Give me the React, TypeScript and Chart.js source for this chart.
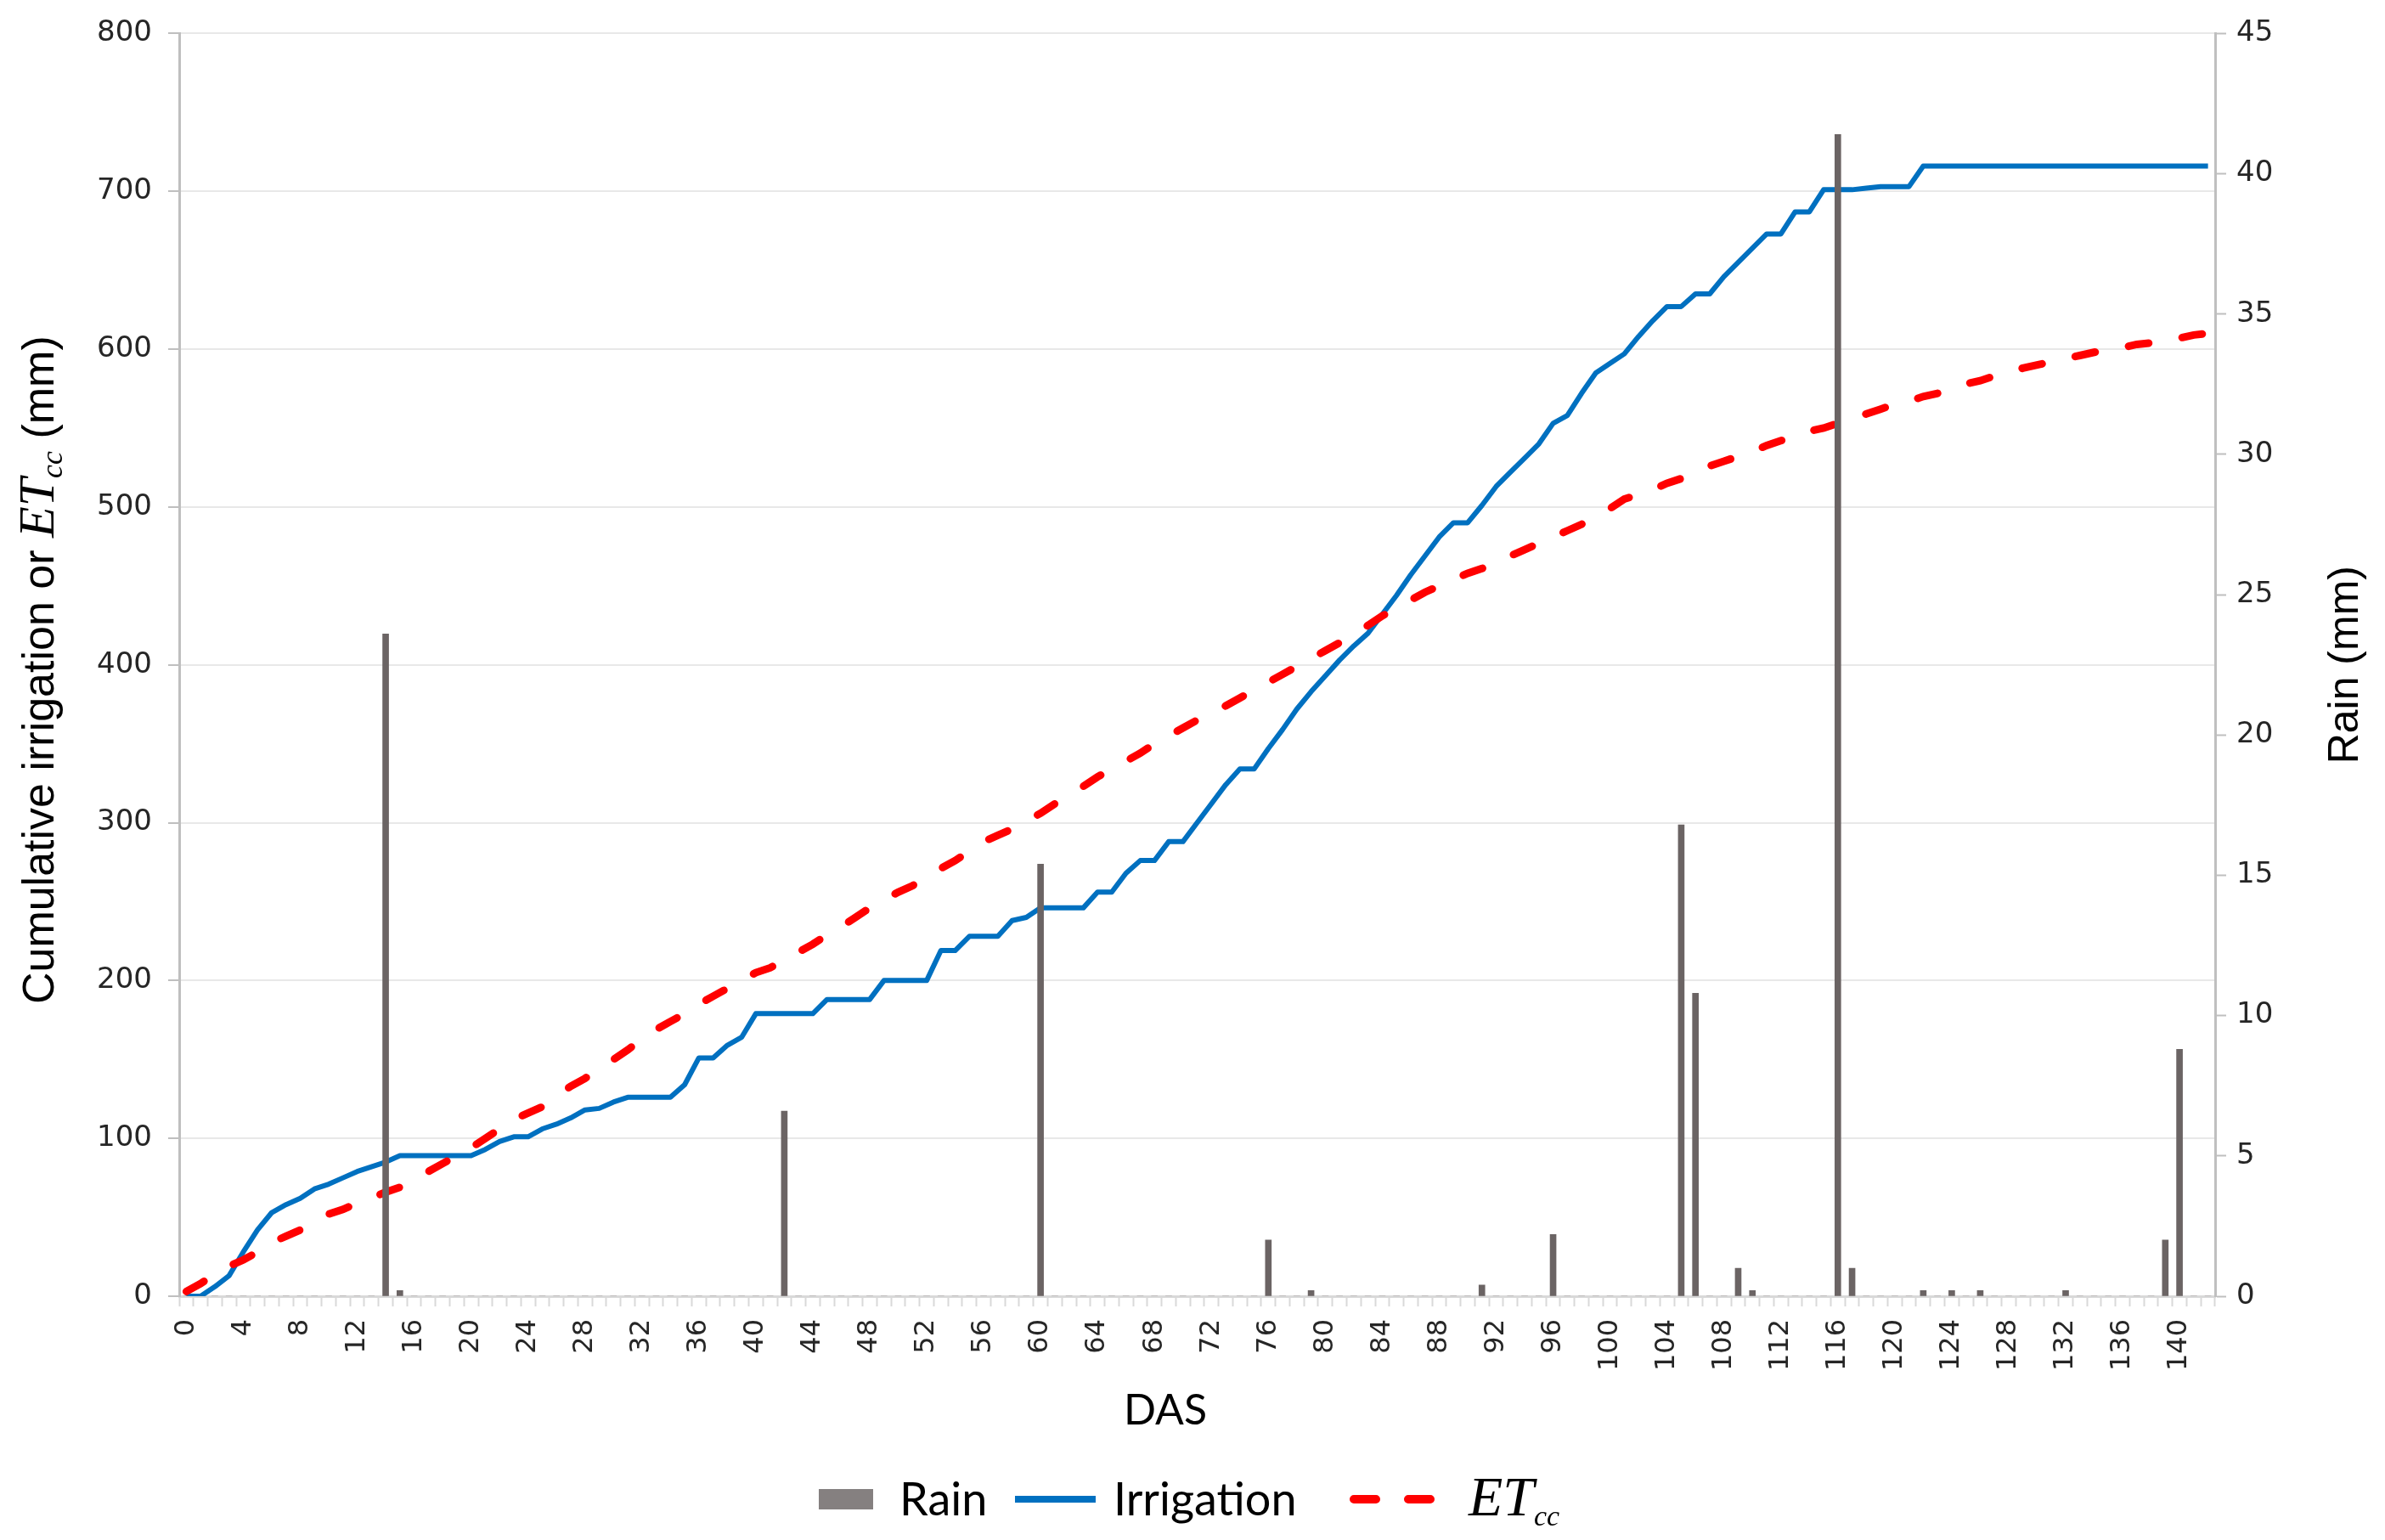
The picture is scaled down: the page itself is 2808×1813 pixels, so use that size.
import React, { useEffect, useRef } from "react";
import { Chart, registerables } from "chart.js";

Chart.register(...registerables);

// ---- Data ----
const days: number[] = [
  0, 1, 2, 3, 4, 5, 6, 7, 8, 9,
  10, 11, 12, 13, 14, 15, 16, 17, 18, 19,
  20, 21, 22, 23, 24, 25, 26, 27, 28, 29,
  30, 31, 32, 33, 34, 35, 36, 37, 38, 39,
  40, 41, 42, 43, 44, 45, 46, 47, 48, 49,
  50, 51, 52, 53, 54, 55, 56, 57, 58, 59,
  60, 61, 62, 63, 64, 65, 66, 67, 68, 69,
  70, 71, 72, 73, 74, 75, 76, 77, 78, 79,
  80, 81, 82, 83, 84, 85, 86, 87, 88, 89,
  90, 91, 92, 93, 94, 95, 96, 97, 98, 99,
  100, 101, 102, 103, 104, 105, 106, 107, 108, 109,
  110, 111, 112, 113, 114, 115, 116, 117, 118, 119,
  120, 121, 122, 123, 124, 125, 126, 127, 128, 129,
  130, 131, 132, 133, 134, 135, 136, 137, 138, 139,
  140, 141, 142,
];

const xTickLabels: number[] = [
  0, 4, 8, 12, 16, 20, 24, 28, 32, 36, 40, 44, 48, 52, 56, 60, 64, 68,
  72, 76, 80, 84, 88, 92, 96, 100, 104, 108, 112, 116, 120, 124, 128,
  132, 136, 140,
];

const rain: number[] = [
  0, 0, 0, 0, 0, 0, 0, 0, 0, 0,
  0, 0, 0, 0, 23.6, 0.2, 0, 0, 0, 0,
  0, 0, 0, 0, 0, 0, 0, 0, 0, 0,
  0, 0, 0, 0, 0, 0, 0, 0, 0, 0,
  0, 0, 6.6, 0, 0, 0, 0, 0, 0, 0,
  0, 0, 0, 0, 0, 0, 0, 0, 0, 0,
  15.4, 0, 0, 0, 0, 0, 0, 0, 0, 0,
  0, 0, 0, 0, 0, 0, 2.0, 0, 0, 0.2,
  0, 0, 0, 0, 0, 0, 0, 0, 0, 0,
  0, 0.4, 0, 0, 0, 0, 2.2, 0, 0, 0,
  0, 0, 0, 0, 0, 16.8, 10.8, 0, 0, 1.0,
  0.2, 0, 0, 0, 0, 0, 41.4, 1.0, 0, 0,
  0, 0, 0.2, 0, 0.2, 0, 0.2, 0, 0, 0,
  0, 0, 0.2, 0, 0, 0, 0, 0, 0, 2.0,
  8.8, 0, 0,
];

const irrigation: number[] = [
  0, 0, 6, 13, 28, 42, 53, 58, 62, 68,
  71, 75, 79, 82, 85, 89, 89, 89, 89, 89,
  89, 93, 98, 101, 101, 106, 109, 113, 118, 119,
  123, 126, 126, 126, 126, 134, 151, 151, 159, 164,
  179, 179, 179, 179, 179, 188, 188, 188, 188, 200,
  200, 200, 200, 219, 219, 228, 228, 228, 238, 240,
  246, 246, 246, 246, 256, 256, 268, 276, 276, 288,
  288, 300, 312, 324, 334, 334, 347, 359, 372, 383,
  393, 403, 412, 420, 432, 444, 457, 469, 481, 490,
  490, 501, 513, 522, 531, 540, 553, 558, 572, 585,
  591, 597, 608, 618, 627, 627, 635, 635, 646, 655,
  664, 673, 673, 687, 687, 701, 701, 701, 702, 703,
  703, 703, 716, 716, 716, 716, 716, 716, 716, 716,
  716, 716, 716, 716, 716, 716, 716, 716, 716, 716,
  716, 716, 716,
];

const etcc: number[] = [
  3, 8, 14, 19, 23, 28, 34, 38, 42, 47,
  52, 55, 59, 62, 66, 69, 74, 79, 84, 89,
  94, 100, 106, 112, 116, 120, 127, 133, 138, 144,
  150, 156, 163, 169, 174, 179, 185, 190, 195, 200,
  205, 208, 213, 218, 223, 229, 234, 240, 246, 251,
  256, 260, 266, 271, 276, 282, 288, 292, 296, 301,
  306, 312, 317, 323, 329, 334, 339, 344, 350, 355,
  360, 365, 369, 374, 379, 384, 389, 394, 399, 404,
  409, 414, 420, 425, 431, 436, 441, 446, 450, 454,
  458, 461, 465, 469, 473, 477, 481, 485, 489, 494,
  499, 505, 508, 511, 515, 518, 522, 526, 529, 532,
  535, 539, 542, 545, 548, 550, 553, 556, 559, 562,
  565, 567, 570, 572, 575, 578, 580, 583, 585, 588,
  590, 592, 594, 596, 598, 600, 601, 603, 604, 606,
  607, 609, 610,
];

const leftTicks = { min: 0, max: 800, step: 100 };
const rightTicks = { min: 0, max: 45, step: 5 };

const COLORS = {
  rain: "#6b6464",
  rainLegend: "#858080",
  irrigation: "#0070C0",
  etcc: "#FF0000",
  grid: "#e8e8e8",
  axis: "#bfbfbf",
  xAxis: "#d9d9d9",
  tickText: "#262626",
  text: "#000000",
};

type Seg = { text: string; font: string; dy: number; w?: number };

function drawRotated(ctx: CanvasRenderingContext2D, cx: number, cy: number, segs: Seg[]) {
  ctx.save();
  ctx.translate(cx, cy);
  ctx.rotate(-Math.PI / 2);
  ctx.textAlign = "left";
  ctx.textBaseline = "alphabetic";
  ctx.fillStyle = COLORS.text;
  let total = 0;
  for (const s of segs) {
    ctx.font = s.font;
    s.w = ctx.measureText(s.text).width;
    total += s.w;
  }
  let x = -total / 2;
  for (const s of segs) {
    ctx.font = s.font;
    ctx.fillText(s.text, x, s.dy);
    x += s.w || 0;
  }
  ctx.restore();
}

const textPlugin = {
  id: "customTexts",
  afterDraw(chart: any) {
    const ctx: CanvasRenderingContext2D = chart.ctx;
    const area = chart.chartArea;
    const midY = (area.top + area.bottom) / 2;

    // Left axis title
    drawRotated(ctx, 45, midY + 6, [
      { text: "Cumulative irrigation or ", font: '52px "Liberation Sans"', dy: 18 },
      { text: "ET", font: 'italic 60px "Liberation Serif"', dy: 18 },
      { text: "cc", font: 'italic 36px "Liberation Serif"', dy: 28 },
      { text: " (mm)", font: '52px "Liberation Sans"', dy: 18 },
    ]);

    // Right axis title
    drawRotated(ctx, 2758, midY, [
      { text: "Rain (mm)", font: '50px "Liberation Sans"', dy: 18 },
    ]);

    // X axis title
    ctx.save();
    ctx.fillStyle = COLORS.text;
    ctx.font = "50px Lato";
    ctx.textAlign = "center";
    ctx.textBaseline = "middle";
    ctx.fillText("DAS", 1372, 1661);
    ctx.restore();

    // Legend
    const ds = chart.data.datasets;
    const ly = 1765;
    const base = 1784;
    ctx.save();
    ctx.fillStyle = COLORS.rainLegend;
    ctx.fillRect(964, ly - 12, 64, 24);
    ctx.fillStyle = COLORS.text;
    ctx.font = "54px Lato";
    ctx.textAlign = "left";
    ctx.textBaseline = "alphabetic";
    ctx.fillText(ds[0].label, 1059, base);
    ctx.strokeStyle = ds[1].borderColor;
    ctx.lineWidth = 8;
    ctx.lineCap = "butt";
    ctx.beginPath();
    ctx.moveTo(1195, ly);
    ctx.lineTo(1290, ly);
    ctx.stroke();
    ctx.fillText(ds[1].label, 1311, base);
    ctx.strokeStyle = ds[2].borderColor;
    ctx.lineWidth = 10;
    ctx.lineCap = "round";
    ctx.setLineDash([26, 38]);
    ctx.beginPath();
    ctx.moveTo(1594, ly);
    ctx.lineTo(1687, ly);
    ctx.stroke();
    ctx.setLineDash([]);
    ctx.font = 'italic 66px "Liberation Serif"';
    ctx.fillText("ET", 1729, base);
    const w = ctx.measureText("ET").width;
    ctx.font = 'italic 34px "Liberation Serif"';
    ctx.fillText("cc", 1729 + w, base + 12);
    ctx.restore();
  },
};

export default function App() {
  const ref = useRef<HTMLCanvasElement | null>(null);

  useEffect(() => {
    document.body.style.margin = "0";
    document.body.style.overflow = "hidden";
    const canvas = ref.current;
    if (!canvas) return;
    const chart = new Chart(canvas, {
      type: "bar",
      data: {
        labels: days.map((d) => String(d)),
        datasets: [
          {
            type: "bar",
            label: "Rain",
            data: rain,
            yAxisID: "y1",
            backgroundColor: COLORS.rain,
            borderWidth: 0,
            barThickness: 7,
            order: 0,
          } as any,
          {
            type: "line",
            label: "Irrigation",
            data: irrigation,
            yAxisID: "y",
            borderColor: COLORS.irrigation,
            backgroundColor: COLORS.irrigation,
            borderWidth: 6,
            pointRadius: 0,
            tension: 0,
            borderJoinStyle: "round",
            order: 2,
          } as any,
          {
            type: "line",
            label: "ETcc",
            data: etcc,
            yAxisID: "y",
            borderColor: COLORS.etcc,
            backgroundColor: COLORS.etcc,
            borderWidth: 9,
            borderDash: [24, 40],
            borderCapStyle: "round",
            pointRadius: 0,
            tension: 0,
            order: 1,
          } as any,
        ],
      },
      options: {
        responsive: false,
        animation: false,
        devicePixelRatio: 1,
        layout: { padding: { top: 39, left: 0, right: 0, bottom: 110 } },
        plugins: {
          legend: { display: false },
          tooltip: { enabled: false },
          title: { display: false },
        },
        scales: {
          x: {
            type: "category",
            offset: true,
            grid: {
              display: true,
              drawOnChartArea: false,
              drawTicks: true,
              tickLength: 12,
              tickColor: COLORS.xAxis,
              tickWidth: 2,
              offset: true,
            },
            border: { display: true, color: COLORS.xAxis, width: 3 },
            ticks: {
              autoSkip: false,
              maxRotation: 90,
              minRotation: 90,
              padding: 15,
              color: COLORS.tickText,
              font: { family: '"DejaVu Sans"', size: 32 },
              callback: (_v: any, i: number) =>
                xTickLabels.includes(days[i]) ? String(days[i]) : "",
            },
            afterFit: (s: any) => {
              s.height = 177;
            },
          },
          y: {
            type: "linear",
            position: "left",
            min: leftTicks.min,
            max: leftTicks.max,
            ticks: {
              stepSize: leftTicks.step,
              padding: 19,
              color: COLORS.tickText,
              font: { family: '"DejaVu Sans"', size: 34 },
            },
            grid: {
              color: COLORS.grid,
              lineWidth: 2,
              tickColor: COLORS.axis,
              tickLength: 13,
              tickWidth: 2,
            },
            border: { color: COLORS.axis, width: 3 },
            afterFit: (s: any) => {
              s.width = 211;
            },
          },
          y1: {
            type: "linear",
            position: "right",
            min: rightTicks.min,
            max: rightTicks.max,
            ticks: {
              stepSize: rightTicks.step,
              padding: 12,
              color: COLORS.tickText,
              font: { family: '"DejaVu Sans"', size: 34 },
            },
            grid: {
              drawOnChartArea: false,
              tickColor: COLORS.axis,
              tickLength: 13,
              tickWidth: 2,
            },
            border: { color: COLORS.axis, width: 3 },
            afterFit: (s: any) => {
              s.width = 200;
            },
          },
        },
      } as any,
      plugins: [textPlugin],
    });
    return () => chart.destroy();
  }, []);

  return (
    <div style={{ width: 2808, height: 1813, background: "#fff" }}>
      <canvas ref={ref} width={2808} height={1813} style={{ display: "block" }} />
    </div>
  );
}
